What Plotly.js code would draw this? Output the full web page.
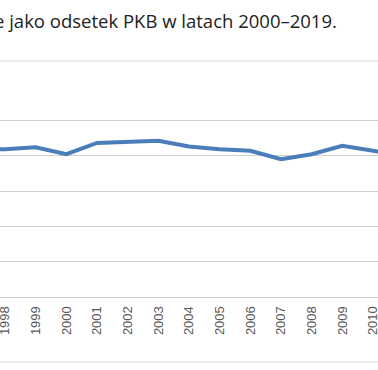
<!DOCTYPE html>
<html>
<head>
<meta charset="utf-8">
<script src="https://cdn.plot.ly/plotly-3.0.1.min.js"></script>
<style>html,body{margin:0;padding:0;background:#fff;}#chart{width:378px;height:370px;}</style>
</head>
<body>
<div id="chart"></div>
<script>
const years = [1997, 1998, 1999, 2000, 2001, 2002, 2003, 2004, 2005, 2006, 2007, 2008, 2009, 2010, 2011];
const values = [21.0, 20.9, 21.2, 20.2, 21.8, 21.9, 22.1, 21.3, 20.9, 20.7, 19.5, 20.2, 21.4, 20.7, 20.1];
const titleText = "e jako odsetek PKB w latach 2000–2019.";
const tickYears = [1998, 1999, 2000, 2001, 2002, 2003, 2004, 2005, 2006, 2007, 2008, 2009, 2010];

const trace = {
  x: years, y: values, type: 'scatter', mode: 'lines',
  line: {color: '#4a7ebb', width: 4},
  hoverinfo: 'skip', cliponaxis: true
};

const layout = {
  width: 378, height: 370,
  margin: {l: 0, r: 0, t: 85, b: 73, pad: 0},
  paper_bgcolor: '#ffffff', plot_bgcolor: '#ffffff',
  showlegend: false,
  font: {family: 'Liberation Sans, Arial, sans-serif', color: '#595959'},
  xaxis: {
    range: [1997.837, 2010.163],
    tickmode: 'array', tickvals: tickYears, ticktext: tickYears.map(String),
    tickangle: -90, tickfont: {size: 13, color: '#595959'},
    ticklabeloverflow: 'allow',
    showgrid: false, zeroline: false,
    showline: true, linecolor: '#d0d0d0', linewidth: 1,
    ticks: '', ticklabelstandoff: 3, fixedrange: true
  },
  yaxis: {
    range: [0, 30], dtick: 5, tick0: 0,
    showgrid: true, gridcolor: '#d0d0d0', gridwidth: 1,
    zeroline: false, showline: false, showticklabels: false, ticks: '', fixedrange: true
  },
  shapes: [
    {type: 'line', xref: 'paper', yref: 'paper', x0: -0.05, x1: 1.05, y0: 1 + 24/212, y1: 1 + 24/212,
     line: {color: '#d9d9d9', width: 1}},
    {type: 'line', xref: 'paper', yref: 'paper', x0: -0.05, x1: 1.05, y0: -65/212, y1: -65/212,
     line: {color: '#d9d9d9', width: 1}}
  ],
  annotations: [
    {text: titleText, xref: 'paper', yref: 'paper', x: -0.022, y: 1 + 65/212, xanchor: 'left', yanchor: 'middle',
     showarrow: false, font: {family: 'Open Sans, sans-serif', size: 18.5, color: '#222222'}}
  ]
};

Plotly.newPlot('chart', [trace], layout, {staticPlot: true, displayModeBar: false});
</script>
</body>
</html>
